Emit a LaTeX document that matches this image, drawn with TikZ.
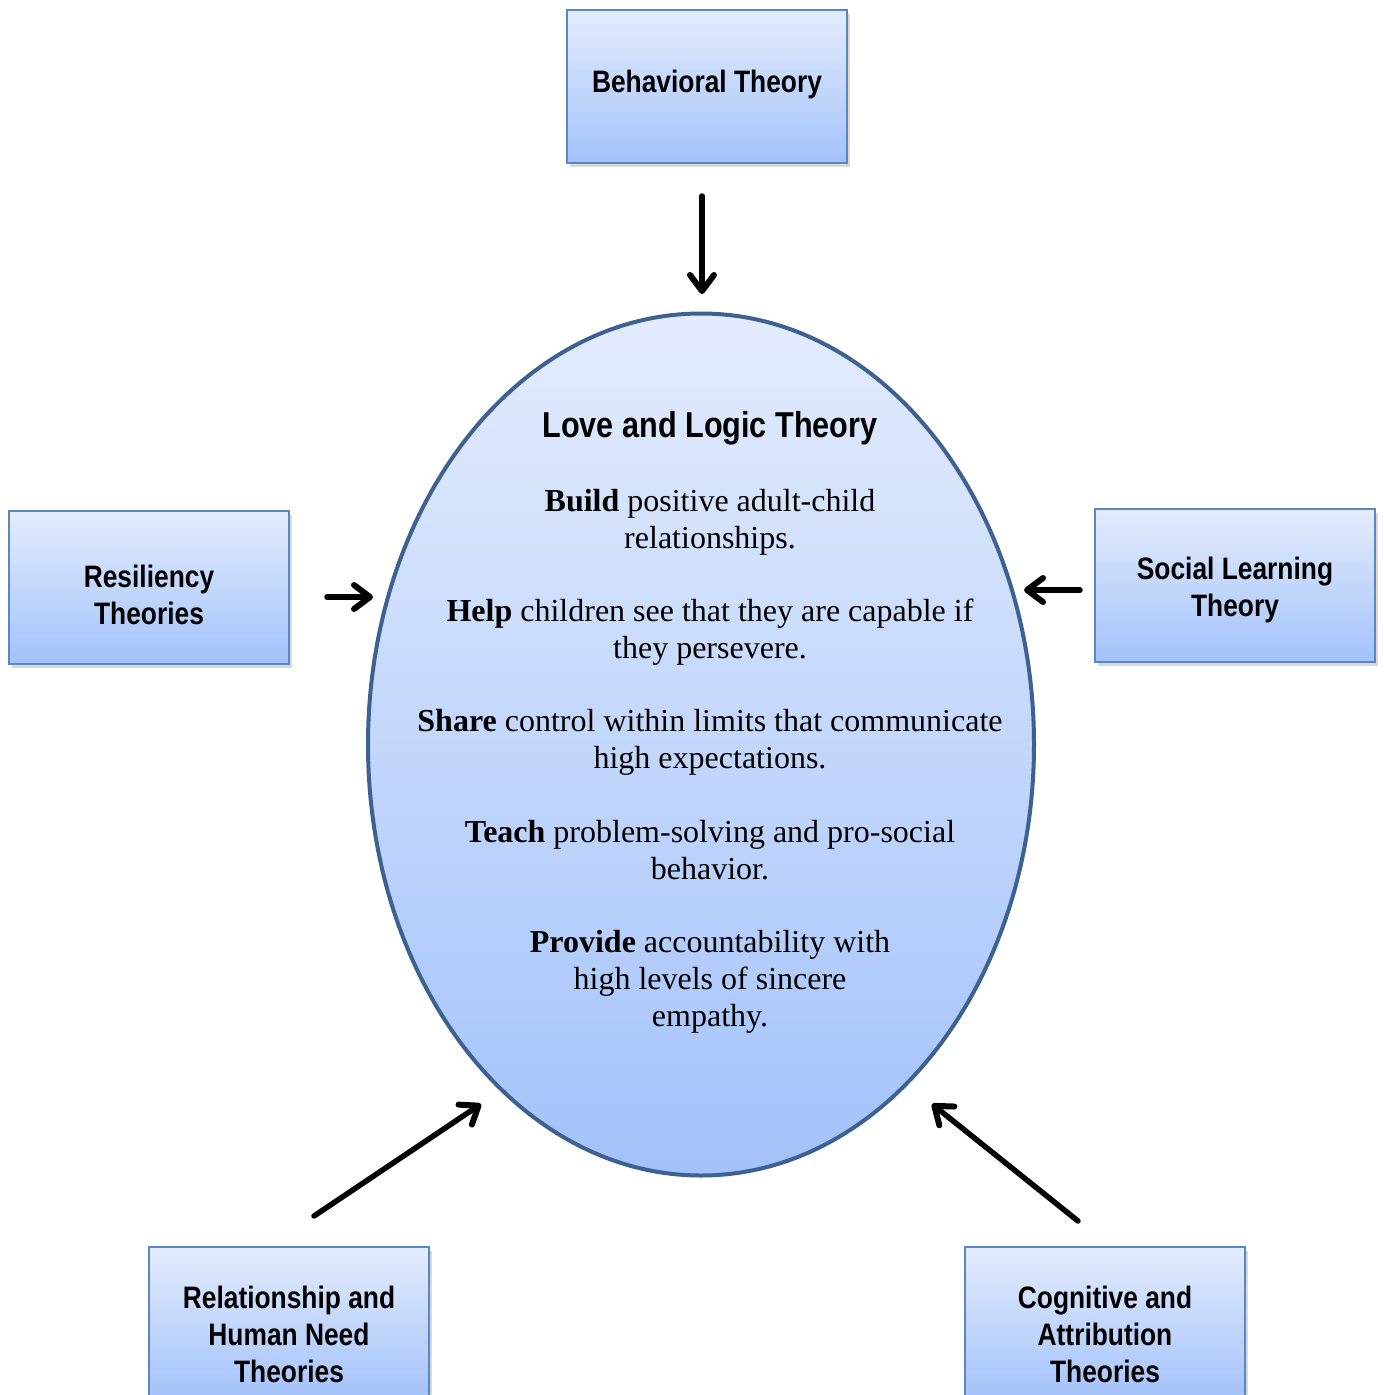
\documentclass[tikz,border=0pt]{standalone}
\usepackage{fontspec}
\setmainfont{Liberation Serif}
\newfontfamily\narrowsans[FakeStretch=0.85]{Liberation Sans}
\usetikzlibrary{arrows.meta,shadows,shapes.geometric}
\definecolor{boxtop}{HTML}{E3ECFD}
\definecolor{boxbot}{HTML}{A3C2FA}
\definecolor{boxline}{HTML}{5A86C4}
\definecolor{elline}{HTML}{3D6191}
\newcommand{\firstlift}[1]{\rule{0pt}{#1}}
\begin{document}
\begin{tikzpicture}[x=1pt,y=-1pt,
  theorybox/.style={draw=boxline, line width=2pt, top color=boxtop, bottom color=boxbot,
    minimum width=280pt, minimum height=153pt, inner sep=0pt, align=center,
    font=\narrowsans\bfseries\fontsize{31}{37}\selectfont,
    drop shadow={opacity=0.3, shadow xshift=3pt, shadow yshift=-4pt}},
  centre/.style={ellipse, draw=elline, line width=4pt, top color=boxtop, bottom color=boxbot,
    minimum width=666pt, minimum height=862pt, inner sep=0pt},
  titletext/.style={anchor=base, inner sep=0pt, font=\narrowsans\bfseries\fontsize{36}{40}\selectfont},
  bodyline/.style={anchor=base, inner sep=0pt, font=\fontsize{32}{37}\selectfont},
  arr/.style={line width=5.5pt, line cap=round,
    -{Straight Barb[length=16pt,width=24pt,line width=6pt,round]}}
]
\useasboundingbox (0,0) rectangle (1384,1395);

\node[centre] (llt) at (701,744.5) {};

\node[theorybox] (beh) at (707,86.5) {Behavioral Theory\rule[-10pt]{0pt}{10pt}};
\node[theorybox] (res) at (149,587.5) {\firstlift{38pt}Resiliency\\Theories};
\node[theorybox] (soc) at (1235,585.5) {\firstlift{32pt}Social Learning\\Theory};
\node[theorybox] (rel) at (289,1323.5) {\firstlift{44pt}Relationship and\\Human Need\\Theories};
\node[theorybox] (cog) at (1105,1323.5) {\firstlift{44pt}Cognitive and\\Attribution\\Theories};

\node[titletext] (title) at (710,437) {Love and Logic Theory};
\node[bodyline] (l1) at (710,511) {\textbf{Build} positive adult-child};
\node[bodyline] (l2) at (710,548) {relationships.};
\node[bodyline] (l3) at (710,621) {\textbf{Help} children see that they are capable if};
\node[bodyline] (l4) at (710,658) {they persevere.};
\node[bodyline] (l5) at (710,731) {\textbf{Share} control within limits that communicate};
\node[bodyline] (l6) at (710,768) {high expectations.};
\node[bodyline] (l7) at (710,842) {\textbf{Teach} problem-solving and pro-social};
\node[bodyline] (l8) at (710,879) {behavior.};
\node[bodyline] (l9) at (710,952) {\textbf{Provide} accountability with};
\node[bodyline] (l10) at (710,989) {high levels of sincere};
\node[bodyline] (l11) at (710,1026) {empathy.};

\coordinate (ts) at (702,196);
\coordinate (te) at (702,294);
\coordinate (ls) at (327,597);
\coordinate (le) at (373,597);
\coordinate (rs) at (1080,590);
\coordinate (re) at (1024,590);
\coordinate (bls) at (314,1216);
\coordinate (ble) at (481,1104);
\coordinate (brs) at (1078,1221);
\coordinate (bre) at (932,1104);

\draw[arr] (ts) -- (te);
\draw[arr] (ls) -- (le);
\draw[arr] (rs) -- (re);
\draw[arr] (bls) -- (ble);
\draw[arr] (brs) -- (bre);
\end{tikzpicture}
\end{document}
